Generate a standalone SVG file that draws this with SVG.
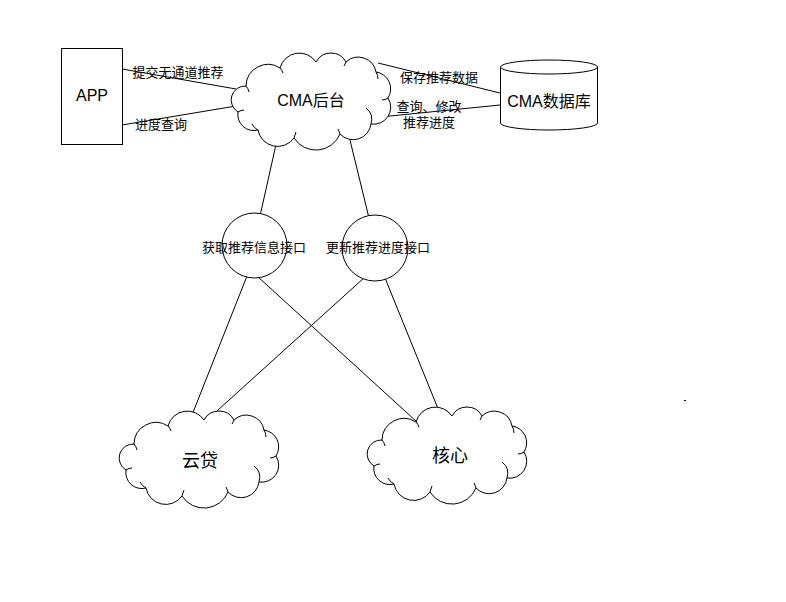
<svg xmlns="http://www.w3.org/2000/svg" width="786" height="602" viewBox="0 0 786 602">
  <style>
    .shape { fill: #ffffff; stroke: #000000; stroke-width: 1; }
    .curl { fill: none; stroke: #000000; stroke-width: 1; }
    .conn line { stroke: #000000; stroke-width: 1; }
    .t { font-family: "Liberation Sans", "Noto Sans CJK SC", sans-serif; fill: #000000; text-anchor: middle; dominant-baseline: central; }
    .big { font-size: 16px; }
    .small { font-size: 13px; }
    .huge { font-size: 18px; }
  </style>
  <defs>
    <!-- cloud outline in a 164 x 98 local box -->
    <g id="cloud">
      <path class="shape" d="M16,34 A22,22 0 0 1 50,16 A20,20 0 0 1 86,10 A17,17 0 0 1 116,10 A18,18 0 0 1 146,20 A17,17 0 0 1 158,46 A17,17 0 0 1 141,72 A18,18 0 0 1 110,82 A26,26 0 0 1 64,86 A20,20 0 0 1 28,78 A16,16 0 0 1 8,60 A14,14 0 0 1 16,34 Z"/>
      <path class="curl" d="M16,34 Q18,36 19,40 M50,16 Q52,18 53,21 M116,10 Q115,12 114,14 M146,20 Q148,23 148,27 M158,46 Q155,48 152,48 M141,72 Q144,62 136,56 M110,82 Q109,79 108,77 M64,86 Q65,83 66,80 M28,78 Q24,76 22,72 M8,60 Q11,58 14,58"/>
    </g>
  </defs>

  <rect width="786" height="602" fill="#ffffff"/>

  <!-- connectors -->
  <g id="connectors" class="conn">
    <line x1="122" y1="69" x2="236" y2="89"/>
    <line x1="122" y1="125" x2="236" y2="106"/>
    <line x1="378" y1="63" x2="500" y2="93"/>
    <line x1="370" y1="118" x2="500" y2="105"/>
    <line x1="277" y1="140" x2="260" y2="216"/>
    <line x1="349" y1="136" x2="369" y2="218"/>
    <line x1="247" y1="276" x2="190" y2="420"/>
    <line x1="257" y1="276" x2="417" y2="422"/>
    <line x1="365" y1="277" x2="207" y2="420"/>
    <line x1="385" y1="278" x2="441" y2="416"/>
  </g>

  <!-- edge labels -->
  <g id="labels">
    <text class="t small" x="178" y="72">提交无通道推荐</text>
    <text class="t small" x="161" y="124">进度查询</text>
    <text class="t small" x="439" y="77">保存推荐数据</text>
    <text class="t small" x="429" y="106">查询、修改</text>
    <text class="t small" x="429" y="122">推荐进度</text>
  </g>

  <g id="app">
    <rect class="shape" x="61.5" y="48.5" width="61" height="96"/>
    <text class="t big" x="92" y="95">APP</text>
  </g>

  <g id="cma">
    <use href="#cloud" x="230" y="52"/>
    <text class="t big" x="311" y="100">CMA后台</text>
  </g>

  <g id="db">
    <path class="shape" d="M500.5,67 L500.5,123 A48.5,7 0 0 0 597.5,123 L597.5,67 Z"/>
    <ellipse class="shape" cx="549" cy="67" rx="48.5" ry="7"/>
    <text class="t big" x="549" y="101">CMA数据库</text>
  </g>

  <g id="api-get">
    <circle class="shape" cx="254.5" cy="245.5" r="32.5"/>
    <text class="t small" x="254" y="247">获取推荐信息接口</text>
  </g>

  <g id="api-update">
    <circle class="shape" cx="375" cy="248" r="33"/>
    <text class="t small" x="378" y="247">更新推荐进度接口</text>
  </g>

  <g id="yundai">
    <use href="#cloud" x="118" y="410"/>
    <text class="t huge" x="200" y="461">云贷</text>
  </g>

  <g id="core">
    <use href="#cloud" x="366" y="406"/>
    <text class="t huge" x="450" y="456">核心</text>
  </g>

  <rect x="684" y="400" width="2" height="1" fill="#000000"/>
</svg>
